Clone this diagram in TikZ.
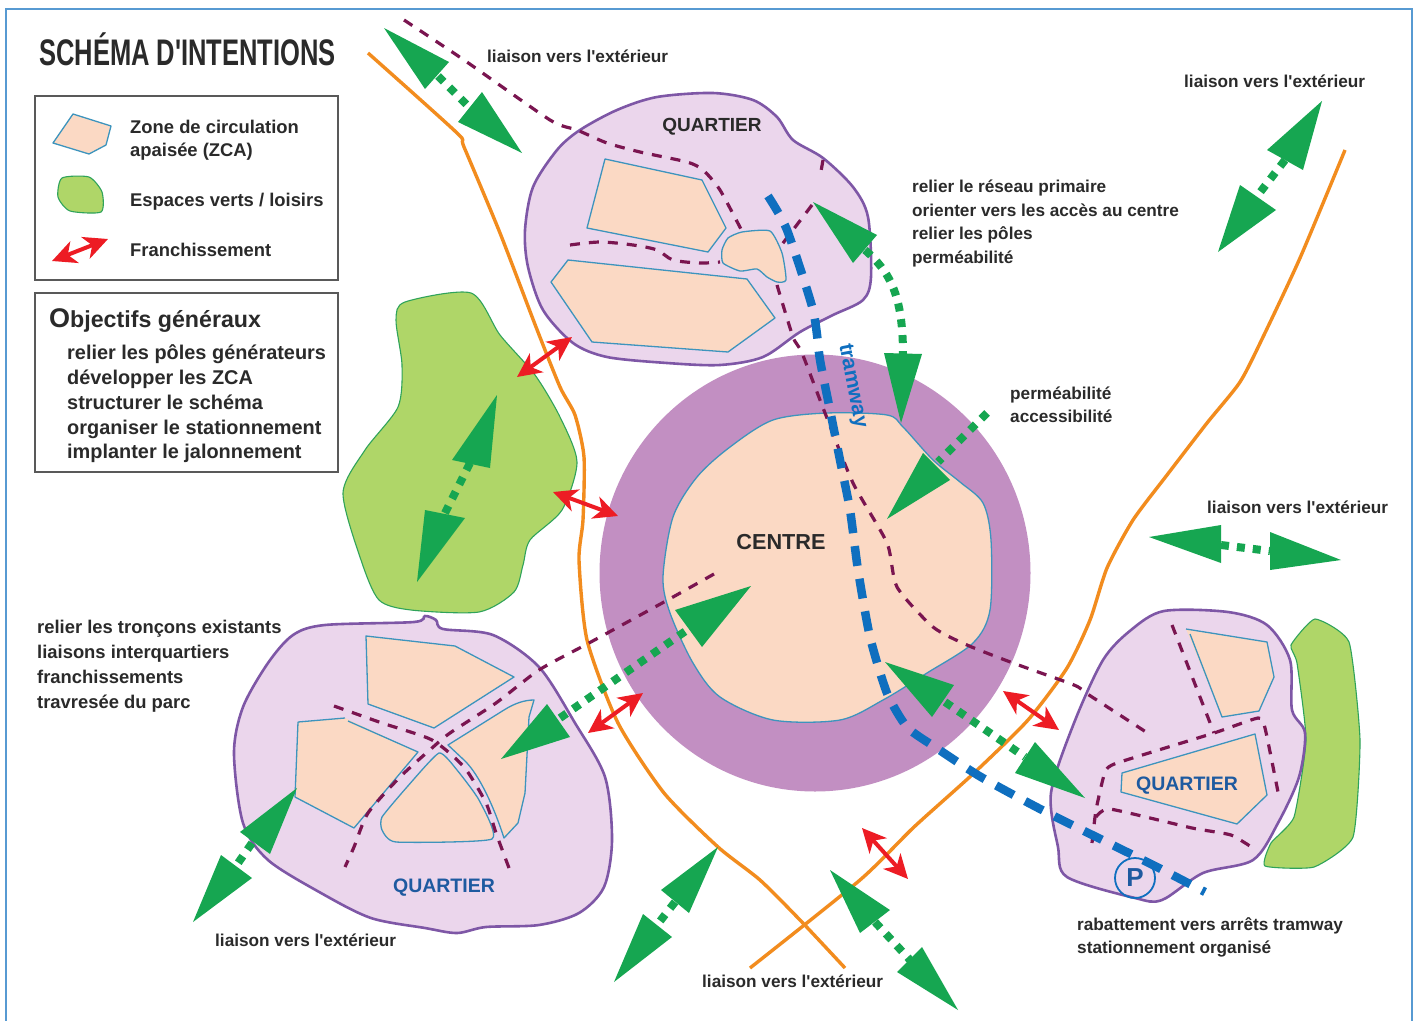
\documentclass[tikz,border=0pt]{standalone}
\usepackage{fontspec}
\setmainfont{Liberation Sans}[Ligatures=TeXOff]
\usetikzlibrary{arrows.meta}
\definecolor{qfill}{HTML}{EBD6EC}
\definecolor{qline}{HTML}{7E57A6}
\definecolor{zfill}{HTML}{FBD9C4}
\definecolor{zline}{HTML}{3D94BD}
\definecolor{pfill}{HTML}{AFD668}
\definecolor{pline}{HTML}{2FA35A}
\definecolor{oline}{HTML}{F28C1E}
\definecolor{plum}{HTML}{7A1550}
\definecolor{tram}{HTML}{0F6FBF}
\definecolor{ring}{HTML}{C28FC2}
\definecolor{gg}{HTML}{16A651}
\definecolor{rr}{HTML}{ED1C24}
\definecolor{qblue}{HTML}{1E5AA0}
\definecolor{txt}{HTML}{2A2A2A}
\tikzset{
 quart/.style={fill=qfill,draw=qline,line width=2.6pt},
 zca/.style={fill=zfill,draw=zline,line width=1.3pt,line join=round},
 park/.style={fill=pfill,draw=pline,line width=1.1pt},
 orangeroad/.style={draw=oline,line width=3.4pt},
 plumroad/.style={draw=plum,line width=3.2pt,dash pattern=on 10pt off 9pt},
 tramroad/.style={draw=tram,line width=8.5pt,dash pattern=on 20pt off 13pt},
 gdots/.style={draw=gg,line width=8pt,dash pattern=on 8pt off 8pt},
 redarrow/.style={draw=rr,fill=rr,line width=4pt,{Stealth[length=24pt,width=23pt,inset=7pt]}-{Stealth[length=24pt,width=23pt,inset=7pt]}},
 box/.style={draw=black!65,line width=1.1pt},
 lab/.style={anchor=base west,yshift=-6pt,inner sep=0pt,text=txt,font=\fontsize{17.2}{20}\selectfont\bfseries},
 labm/.style={lab,font=\fontsize{18.4}{22}\selectfont\bfseries},
 labo/.style={lab,font=\fontsize{19.9}{22}\selectfont\bfseries},
 qname/.style={inner sep=0pt,font=\fontsize{19.5}{22}\selectfont\bfseries},
 frame/.style={draw=tram!70,line width=1.3pt}
}
\newcommand{\gtri}[3]{\fill[gg] (#1) -- (#2) -- (#3) -- cycle;}
\begin{document}
\begin{tikzpicture}[x=1pt,y=-1pt]
\useasboundingbox (0,0) rectangle (1416,1020);
\fill[white] (0,0) rectangle (1416,1020);
\draw[frame] (6,1021) -- (6,9) -- (1412,9) -- (1412,1021);

% parks
\draw[park] plot[smooth cycle,tension=.45] coordinates {(396,320) (405,302) (471,293) (500,335) (535,375) (560,417) (577,462) (562,510) (530,540) (523,565) (514,592) (479,612) (411,610) (379,600) (361,560) (343,493) (365,450) (398,407) (402,365)};
\draw[park] plot[smooth cycle,tension=.3] coordinates {(1315,619) (1349,642) (1360,740) (1353,837) (1314,867) (1265,866) (1271,843) (1294,817) (1306,740) (1297,663) (1291,645)};

% quartiers
\draw[quart] plot[smooth cycle,tension=.5] coordinates {(525,230) (533,187) (557,150) (580,130) (617,110) (657,97) (713,93) (753,100) (777,117) (793,140) (823,158) (853,187) (868,217) (871,277) (863,300) (833,315) (800,332) (763,357) (720,365) (667,363) (607,357) (573,343) (543,310) (528,267)};
\draw[quart] plot[smooth cycle,tension=.5] coordinates {(234,753) (243,707) (268,663) (293,635) (325,625) (414,622) (425,616) (436,620) (443,629) (493,635) (539,667) (575,723) (605,777) (612,840) (604,887) (579,913) (539,925) (486,927) (457,933) (425,928) (371,918) (321,893) (268,860) (243,823)};
\draw[quart] plot[smooth cycle,tension=.5] coordinates {(1164,611) (1228,612) (1267,625) (1290,660) (1292,710) (1305,733) (1299,777) (1278,823) (1253,860) (1203,873) (1162,900) (1135,898) (1067,877) (1058,847) (1051,793) (1074,723) (1103,660) (1131,630)};

% centre
\fill[ring] (815,573) ellipse [x radius=215.5,y radius=218.5];
\draw[zca] plot[smooth cycle,tension=.5] coordinates {(663,577) (673,517) (697,477) (730,447) (773,420) (827,413) (887,415) (903,427) (933,460) (960,482) (983,503) (991,540) (990,610) (973,643) (927,673) (883,700) (840,720) (773,720) (720,697) (693,663) (670,613)};

% ZCA blocks
\draw[zca] (605,159) -- (702,180) -- (726,228) -- (708,252) -- (587,228) -- cycle;
\draw[zca] (568,260) -- (747,279) -- (775,318) -- (728,352) -- (592,342) -- (551,282) -- cycle;
\draw[zca] plot[smooth cycle,tension=.35] coordinates {(742,232) (770,231) (782,253) (786,280) (777,282) (767,277) (757,269) (740,271) (723,263) (722,250) (728,238)};
\draw[zca] (366,636) -- (455,646) -- (514,677) -- (434,728) -- (368,704) -- cycle;
\fill[zfill] (298,722) -- (345,718) -- (418,752) -- (354,828) -- (295,797) -- cycle;
\draw[zca] (298,722) -- (345,718) (348,721) -- (418,752) -- (354,828) -- (295,797) -- (298,722);
\draw[zca] plot[smooth cycle,tension=.3] coordinates {(439,753) (457,770) (479,800) (492,839) (396,842) (382,830) (382,817) (407,787)};
\draw[zca] (448,745) -- (504,710) .. controls (515,703) and (525,700) .. (534,700) -- (529,717) -- (525,793) -- (518,823) -- (504,838) .. controls (495,810) and (480,775) .. (464,760) -- cycle;
\fill[zfill] (1186,629) -- (1267,642) -- (1274,677) -- (1259,711) -- (1222,717) -- cycle;
\draw[zca] (1186,629) -- (1267,642) -- (1274,677) -- (1259,711) -- (1222,717) -- (1190,634);
\draw[zca] (1122,773) -- (1255,734) -- (1267,795) -- (1237,824) -- (1121,792) -- cycle;

% orange roads
\draw[orangeroad] plot[smooth,tension=.4] coordinates {(368,53) (457,133) (464,147) (500,233) (536,327) (560,387) (575,415) (584,457) (583,520) (579,560) (587,640) (618,723) (664,793) (718,847) (760,880) (800,920) (845,968)};
\draw[orangeroad] plot[smooth,tension=.4] coordinates {(1345,150) (1300,258) (1263,337) (1240,382) (1207,423) (1167,475) (1133,520) (1107,568) (1090,620) (1067,668) (1028,720) (974,773) (914,827) (860,880) (750,968)};

% plum roads
\draw[plumroad] plot[smooth,tension=.4] coordinates {(404,20) (464,60) (550,120) (577,130) (607,143) (640,152) (687,162) (703,170) (720,190) (743,233)};
\draw[plumroad] plot[smooth,tension=.5] coordinates {(570,245) (600,242) (633,245) (657,250) (673,260) (700,263) (720,262)};
\draw[plumroad] (823,160) -- (820,177);
\draw[plumroad] (812,205) -- (780,247);
\draw[plumroad] plot[smooth,tension=.4] coordinates {(777,285) (793,337) (802,353) (825,413) (853,483) (887,543) (897,587) (933,627) (967,645) (1013,663) (1074,685) (1089,695) (1146,732)};
\draw[plumroad] plot[smooth,tension=.4] coordinates {(714,574) (664,602) (589,643) (539,670) (496,703) (450,733) (432,748) (400,777) (368,813) (354,847) (345,867)};
\draw[plumroad] plot[smooth,tension=.4] coordinates {(334,706) (382,723) (432,740) (464,767) (486,803) (496,833) (509,868)};
\draw[plumroad] (1172,625) -- (1214,733);
\draw[plumroad] plot[smooth,tension=.3] coordinates {(1092,843) (1096,810) (1105,772) (1117,763) (1214,733) (1258,718) (1265,728) (1278,792)};
\draw[plumroad] plot[smooth,tension=.3] coordinates {(1096,817) (1110,809) (1192,828) (1231,835) (1256,850)};

% tramway
\draw[tramroad] plot[smooth,tension=.4] coordinates {(768,196) (787,230) (813,310) (820,360) (830,410) (840,460) (850,510) (858,570) (870,637) (887,693) (907,727) (935,747) (981,777) (1046,812) (1153,865) (1205,892)};

% green arrows
\draw[gdots] (438,76) -- (470,108);
\gtri{384,28}{449,62}{425,89}
\gtri{522,153}{482,92}{458,122}
\draw[gdots] (1285,160) -- (1258,195);
\gtri{1322,101}{1267,150}{1303,170}
\gtri{1218,252}{1240,185}{1276,210}
\draw[gdots] (470,463) -- (445,513);
\gtri{497,395}{452,460}{490,468}
\gtri{417,582}{425,510}{465,518}
\draw[gdots] (865,250) .. controls (890,272) and (903,295) .. (903,355);
\gtri{813,202}{877,235}{853,263}
\gtri{901,423}{884,353}{922,354}
\draw[gdots] (987,413) -- (938,462);
\gtri{887,519}{923,453}{950,480}
\draw[gdots] (1221,545) -- (1270,551);
\gtri{1149,537}{1221,525}{1221,563}
\gtri{1341,560}{1270,532}{1270,570}
\draw[gdots] (945,702) -- (1025,757);
\gtri{885,662}{954,685}{932,717}
\gtri{1085,798}{1035,742}{1015,773}
\draw[gdots] (875,922) -- (910,960);
\gtri{830,870}{890,910}{860,933}
\gtri{958,1010}{922,947}{897,972}
\draw[gdots] (675,902) -- (657,925);
\gtri{718,847}{661,890}{689,913}
\gtri{614,982}{643,914}{672,937}
\draw[gdots] (252,843) -- (236,866);
\gtri{297,788}{240,832}{270,854}
\gtri{193,922}{221,855}{252,878}
\draw[gdots] (560,718) -- (690,628);
\gtri{501,759}{547,704}{570,737}
\gtri{751,586}{675,610}{702,647}

% red arrows
\draw[redarrow] (517,377) -- (572,337);
\draw[redarrow] (553,492) -- (618,516);
\draw[redarrow] (588,733) -- (643,693);
\draw[redarrow] (1003,691) -- (1059,730);
\draw[redarrow] (862,828) -- (908,879);

% legend
\draw[box,fill=white] (35,96) rectangle (338,280);
\draw[box,fill=white] (35,293) rectangle (338,472);
\draw[zca] (73,114) -- (111,126) -- (106,145) -- (89,154) -- (53,143) -- cycle;
\draw[park] plot[smooth cycle,tension=.4] coordinates {(62,178) (89,177) (102,192) (101,212) (70,211) (58,197)};
\draw[redarrow] (52,261) -- (108,239);

% texts
\node[lab,yshift=-7pt,xscale=.69,font=\fontsize{37}{40}\selectfont\bfseries] (title) at (39,52) {SCHÉMA D'INTENTIONS};
\node[labm] (l1) at (130,127) {Zone de circulation};
\node[labm] (l2) at (130,150) {apaisée (ZCA)};
\node[labm] (l3) at (130,200) {Espaces verts / loisirs};
\node[labm] (l4) at (130,250) {Franchissement};
\node[lab,font=\fontsize{23.2}{26}\selectfont\bfseries] (obj) at (49,321) {{\fontsize{27}{26}\selectfont O}bjectifs généraux};
\node[labo] (o1) at (67,353) {relier les pôles générateurs};
\node[labo] (o2) at (67,378) {développer les ZCA};
\node[labo] (o3) at (67,403) {structurer le schéma};
\node[labo] (o4) at (67,428) {organiser le stationnement};
\node[labo] (o5) at (67,452) {implanter le jalonnement};

\node[lab] (e1) at (487,56) {liaison vers l'extérieur};
\node[lab] (e2) at (1184,81) {liaison vers l'extérieur};
\node[lab] (e3) at (1207,507) {liaison vers l'extérieur};
\node[lab] (e4) at (215,940) {liaison vers l'extérieur};
\node[lab] (e5) at (702,981) {liaison vers l'extérieur};
\node[lab] (r1) at (912,186) {relier le réseau primaire};
\node[lab] (r2) at (912,210) {orienter vers les accès au centre};
\node[lab] (r3) at (912,233) {relier les pôles};
\node[lab] (r4) at (912,257) {perméabilité};
\node[lab] (p1) at (1010,393) {perméabilité};
\node[lab] (p2) at (1010,416) {accessibilité};
\node[labm] (t1) at (37,627) {relier les tronçons existants};
\node[labm] (t2) at (37,652) {liaisons interquartiers};
\node[labm] (t3) at (37,677) {franchissements};
\node[labm] (t4) at (37,702) {travresée du parc};
\node[lab] (s1) at (1077,924) {rabattement vers arrêts tramway};
\node[lab] (s2) at (1077,947) {stationnement organisé};

\node[qname,text=txt,font=\fontsize{19}{22}\selectfont\bfseries] (q1) at (712,127) {QUARTIER};
\node[qname,text=qblue] (q2) at (444,888) {QUARTIER};
\node[qname,text=qblue] (q3) at (1187,786) {QUARTIER};
\node[qname,text=txt,font=\fontsize{21.7}{24}\selectfont\bfseries] (c) at (781,542) {CENTRE};
\node[inner sep=0pt,text=tram,rotate=-79,font=\fontsize{21}{24}\selectfont\bfseries] (tw) at (852,386) {tramway};
\node[circle,draw=tram,line width=1.8pt,minimum size=40pt,inner sep=0pt,text=qblue,font=\fontsize{26}{28}\selectfont\bfseries] (P) at (1135,878) {P};
\end{tikzpicture}
\end{document}
